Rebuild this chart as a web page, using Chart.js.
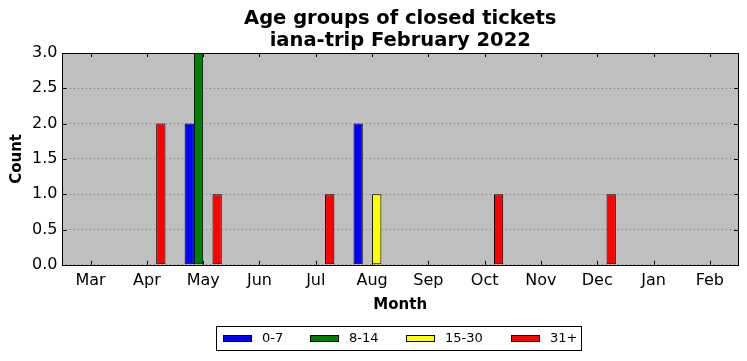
<!DOCTYPE html>
<html>
<head>
<meta charset="utf-8">
<script src="https://cdn.jsdelivr.net/npm/chart.js@4"></script>
<style>
  html, body { margin: 0; padding: 0; background: #fff; }
  #wrap { width: 747px; height: 361px; }
</style>
</head>
<body>
<div id="wrap"><canvas id="chart"></canvas></div>
<script>
const months = ["Mar","Apr","May","Jun","Jul","Aug","Sep","Oct","Nov","Dec","Jan","Feb"];
const age0to7   = [0,0,2,0,0,2,0,0,0,0,0,0];
const age8to14  = [0,0,3,0,0,0,0,0,0,0,0,0];
const age15to30 = [0,0,0,0,0,1,0,0,0,0,0,0];
const age31plus = [0,2,1,0,1,0,0,1,0,1,0,0];
const seriesNames = ["0-7","8-14","15-30","31+"];
const seriesColors = ["#0000ff","#008000","#ffff00","#ff0000"];
const yTicks = ["0.0","0.5","1.0","1.5","2.0","2.5","3.0"];
const titleLines = ["Age groups of closed tickets", "iana-trip February 2022"];

const FONT = "'DejaVu Sans', sans-serif";

// grey plot background + black frame + inward tick marks (matplotlib classic look)
const frame = {
  id: "frame",
  beforeDraw(chart) {
    const { ctx, chartArea: a } = chart;
    ctx.save();
    ctx.fillStyle = "#bfbfbf";
    ctx.fillRect(a.left, a.top, a.right - a.left, a.bottom - a.top);
    ctx.restore();
  },
  afterDraw(chart) {
    const { ctx, chartArea: a, scales } = chart;
    ctx.save();
    ctx.strokeStyle = "#000";
    ctx.lineWidth = 1;
    ctx.beginPath();
    scales.x.ticks.forEach((t, i) => {
      const x = Math.round(scales.x.getPixelForTick(i)) + 0.5;
      ctx.moveTo(x, a.bottom); ctx.lineTo(x, a.bottom - 4);
      ctx.moveTo(x, a.top); ctx.lineTo(x, a.top + 4);
    });
    scales.y.ticks.forEach((t, i) => {
      const y = Math.round(scales.y.getPixelForTick(i)) + 0.5;
      ctx.moveTo(a.left, y); ctx.lineTo(a.left + 4, y);
      ctx.moveTo(a.right, y); ctx.lineTo(a.right - 4, y);
    });
    ctx.stroke();
    ctx.strokeRect(Math.round(a.left) + 0.5, Math.round(a.top) + 0.5,
                   Math.round(a.right - a.left), Math.round(a.bottom - a.top));

    // title, centred over the plot area
    ctx.fillStyle = "#000";
    ctx.textAlign = "center";
    ctx.textBaseline = "middle";
    ctx.font = "bold 19.5px " + FONT;
    const cx = (a.left + a.right) / 2;
    ctx.fillText(titleLines[0], cx, 19);
    ctx.fillText(titleLines[1], cx, 41);

    // legend box under the x title
    const ds = chart.data.datasets;
    ctx.textAlign = "left";
    ctx.font = "13px " + FONT;
    ctx.fillStyle = "#fff";
    ctx.fillRect(217, 326, 364, 25);
    ctx.strokeRect(216.5, 326.5, 365, 24);
    const starts = [223, 310, 406, 511];
    ds.forEach((d, i) => {
      const x = starts[i];
      ctx.fillStyle = d.backgroundColor;
      ctx.fillRect(x, 335, 28, 7);
      ctx.strokeRect(x + 0.5, 335.5, 28, 6);
      ctx.fillStyle = "#000";
      ctx.fillText(d.label, x + 39, 338.5);
    });
    ctx.restore();
  }
};

const values = [age0to7, age8to14, age15to30, age31plus];

new Chart(document.getElementById("chart"), {
  type: "bar",
  data: {
    labels: months,
    datasets: seriesNames.map((name, i) => ({
      label: name,
      data: values[i],
      backgroundColor: seriesColors[i],
      borderColor: "#000",
      borderWidth: 1,
      borderSkipped: false,
      barPercentage: 1.0,
      categoryPercentage: 0.66
    }))
  },
  options: {
    responsive: true,
    maintainAspectRatio: false,
    animation: false,
    layout: { padding: { left: 0, right: 9, top: 53, bottom: 43 } },
    plugins: {
      legend: { display: false },
      tooltip: { enabled: false },
      title: { display: false }
    },
    scales: {
      x: {
        offset: true,
        grid: { display: false, drawTicks: false },
        border: { display: false },
        ticks: { color: "#000", padding: 6, font: { family: FONT, size: 16 } },
        title: {
          display: true, text: "Month", color: "#000",
          font: { family: FONT, size: 15, weight: "bold" },
          padding: { top: 0, bottom: 4 }
        }
      },
      y: {
        min: 0, max: 3,
        grid: { color: "rgba(0,0,0,0.35)", drawTicks: false },
        border: { display: false, dash: [1, 3] },
        ticks: {
          stepSize: 0.5, color: "#000", padding: 5,
          font: { family: FONT, size: 16 },
          callback: (v, i) => yTicks[i]
        },
        title: {
          display: true, text: "Count", color: "#000",
          font: { family: FONT, size: 15, weight: "bold" },
          padding: { top: 8, bottom: 1 }
        }
      }
    }
  },
  plugins: [frame]
});
</script>
</body>
</html>
